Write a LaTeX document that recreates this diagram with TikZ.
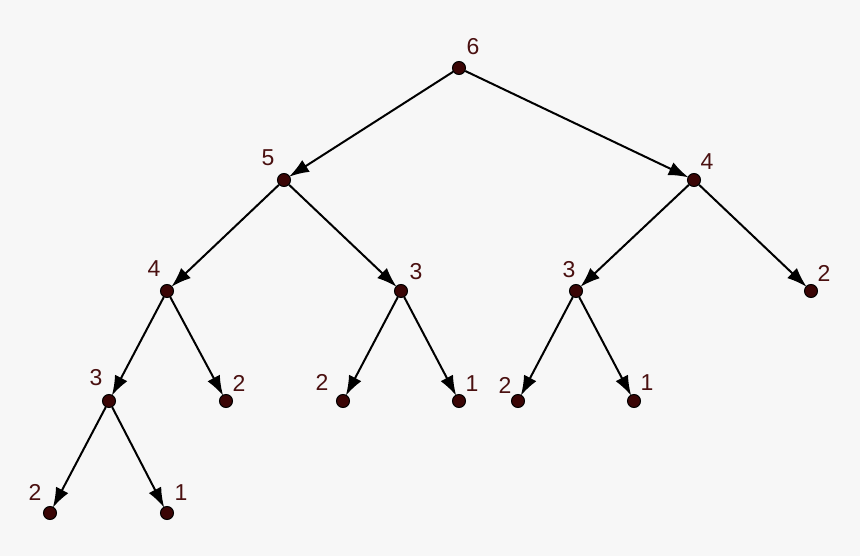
\documentclass[tikz,border=0pt]{standalone}
\usepackage{fontspec}
\setmainfont{Liberation Sans}
\usetikzlibrary{arrows.meta,calc}
\definecolor{bg}{HTML}{F7F7F7}
\definecolor{dotfill}{HTML}{3A0505}
\definecolor{lblcol}{HTML}{4A1010}
\tikzset{
  dot/.style={circle,fill=dotfill,draw=black,line width=1pt,minimum size=13pt,inner sep=0pt},
  lbl/.style={text=lblcol,font=\fontsize{23}{23}\selectfont,inner sep=0pt},
  edge/.style={draw=black,line width=2pt,-{Latex[length=20pt,width=14pt]},shorten >=-1pt}
}
\begin{document}
\begin{tikzpicture}[x=1pt,y=-1pt]
\fill[bg] (0,0) rectangle (860,556);
\useasboundingbox (0,0) rectangle (860,556);
% nodes
\node[dot] (n6) at (459,68) {};
\node[dot] (n5) at (284,180) {};
\node[dot] (n4r) at (694,180) {};
\node[dot] (n4l) at (167,291) {};
\node[dot] (n3a) at (401,291) {};
\node[dot] (n3b) at (576,291) {};
\node[dot] (n2r) at (811,291) {};
\node[dot] (n3c) at (109,401) {};
\node[dot] (n2a) at (226,401) {};
\node[dot] (n2b) at (343,401) {};
\node[dot] (n1a) at (459,401) {};
\node[dot] (n2c) at (518,401) {};
\node[dot] (n1b) at (634,401) {};
\node[dot] (n2d) at (50,513) {};
\node[dot] (n1c) at (167,513) {};
% labels
\node[lbl] (l6) at ($(n6)+(14,-21)$) {6};
\node[lbl] (l5) at ($(n5)+(-16,-22)$) {5};
\node[lbl] (l4r) at ($(n4r)+(13,-18)$) {4};
\node[lbl] (l4l) at ($(n4l)+(-13,-22)$) {4};
\node[lbl] (l3a) at ($(n3a)+(15,-19)$) {3};
\node[lbl] (l3b) at ($(n3b)+(-7,-21)$) {3};
\node[lbl] (l2r) at ($(n2r)+(13,-18)$) {2};
\node[lbl] (l3c) at ($(n3c)+(-13,-23)$) {3};
\node[lbl] (l2a) at ($(n2a)+(13,-18)$) {2};
\node[lbl] (l2b) at ($(n2b)+(-21,-19)$) {2};
\node[lbl] (l1a) at ($(n1a)+(13,-17)$) {1};
\node[lbl] (l2c) at ($(n2c)+(-13,-16)$) {2};
\node[lbl] (l1b) at ($(n1b)+(13,-18)$) {1};
\node[lbl] (l2d) at ($(n2d)+(-15,-21)$) {2};
\node[lbl] (l1c) at ($(n1c)+(14,-20)$) {1};
% edges
\draw[edge] (n6) -- (n5);
\draw[edge] (n6) -- (n4r);
\draw[edge] (n5) -- (n4l);
\draw[edge] (n5) -- (n3a);
\draw[edge] (n4r) -- (n3b);
\draw[edge] (n4r) -- (n2r);
\draw[edge] (n4l) -- (n3c);
\draw[edge] (n4l) -- (n2a);
\draw[edge] (n3a) -- (n2b);
\draw[edge] (n3a) -- (n1a);
\draw[edge] (n3b) -- (n2c);
\draw[edge] (n3b) -- (n1b);
\draw[edge] (n3c) -- (n2d);
\draw[edge] (n3c) -- (n1c);
\end{tikzpicture}
\end{document}
